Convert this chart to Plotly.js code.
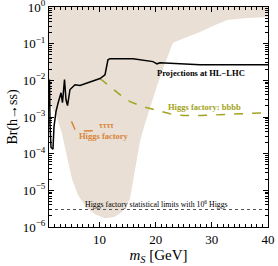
<!DOCTYPE html>
<html>
<head>
<meta charset="utf-8">
<script src="https://cdn.plot.ly/plotly-3.0.1.min.js"></script>
<style>html,body{margin:0;padding:0;background:#fff;}#chart{width:278px;height:266px;}</style>
</head>
<body>
<div id="chart"></div>
<script>
// Shaded allowed region lower boundary (mass in GeV, log10 Br)
const shadeMass = [1.0, 1.53, 2.07, 2.6, 3.32, 3.85, 4.38, 5.1, 6.16, 7.6, 9.2, 11.0, 12.6, 14.0, 15.4, 16.3, 17.2, 18.1, 19.0, 20.2, 21.7, 22.5, 23.08, 25.58, 27.9, 30.0, 32.7, 36.26, 40.0];
const shadeLogBr = [-2.61, -2.74, -2.88, -3.10, -3.45, -3.83, -4.24, -4.70, -5.13, -5.46, -5.65, -5.76, -5.73, -5.59, -5.24, -4.43, -3.67, -3.18, -2.72, -2.17, -1.52, -1.17, -0.977, -0.815, -0.679, -0.53, -0.353, -0.299, -0.27];

// HL-LHC projections
const lhcMass = [1.09, 1.18, 1.36, 1.71, 1.89, 2.25, 2.6, 3.14, 3.4, 3.76, 4.03, 4.3, 4.74, 5.1, 5.63, 6.52, 7.95, 9.19, 10.08, 10.97, 11.5, 11.86, 15.96, 19.52, 20.23, 20.77, 27.9, 40.0];
const lhcLogBr = [-1.98, -3.20, -3.83, -3.88, -3.26, -2.85, -2.63, -2.34, -2.61, -1.98, -2.53, -2.69, -2.25, -2.20, -2.12, -2.14, -2.06, -2.01, -1.95, -1.85, -1.44, -1.41, -1.41, -1.49, -1.55, -1.52, -1.575, -1.575];

// Higgs factory bbbb
const bbMass = [10.08, 11.86, 13.64, 15.43, 17.74, 20.23, 22.55, 24.87, 27.9, 32.7, 40.0];
const bbLogBr = [-1.95, -2.17, -2.39, -2.58, -2.72, -2.82, -2.91, -2.96, -2.96, -2.93, -2.88];

// Higgs factory tau tau tau tau
const tauMass = [5.0, 5.36, 5.63, 6.52, 7.95, 9.19, 9.73];
const tauLogBr = [-3.12, -3.26, -3.34, -3.39, -3.39, -3.37, -3.34];

// Statistical limit with 10^6 Higgs
const statLimit = 3e-6;

const xRange = [1, 40];
const yLogRange = [-6, 0];
const yTickVals = [1e-6, 1e-5, 1e-4, 1e-3, 1e-2, 1e-1, 1];
const yTickText = ['10<sup>−6</sup>', '10<sup>−5</sup>', '10<sup>−4</sup>', '10<sup>−3</sup>', '10<sup>−2</sup>', '10<sup>−1</sup>', '10<sup>0</sup>'];
const xTickVals = [10, 20, 30, 40];

const pow10 = a => a.map(v => Math.pow(10, v));

const shadeX = shadeMass.concat([xRange[1], xRange[0]]);
const shadeY = pow10(shadeLogBr).concat([Math.pow(10, yLogRange[1]), Math.pow(10, yLogRange[1])]);

const serif = 'Liberation Serif, Times New Roman, serif';
const olive = '#a3a321';
const orange = '#d8853a';

const traces = [
  {x: shadeX, y: shadeY, type: 'scatter', mode: 'lines', fill: 'toself', fillcolor: '#e9dfd4', line: {width: 0, color: '#e9dfd4'}, hoverinfo: 'skip'},
  {x: xRange, y: [statLimit, statLimit], type: 'scatter', mode: 'lines', line: {color: '#555', width: 1, dash: 'dot'}},
  {x: tauMass, y: pow10(tauLogBr), type: 'scatter', mode: 'lines', line: {color: orange, width: 1.5, dash: 'dash'}},
  {x: bbMass, y: pow10(bbLogBr), type: 'scatter', mode: 'lines', line: {color: olive, width: 1.5, dash: 'dash'}},
  {x: lhcMass, y: pow10(lhcLogBr), type: 'scatter', mode: 'lines', line: {color: '#000', width: 1.5}}
];

const layout = {
  width: 278, height: 266,
  margin: {l: 49, r: 10, t: 7, b: 39},
  paper_bgcolor: '#fff', plot_bgcolor: '#fff',
  showlegend: false,
  font: {family: serif, color: '#000', size: 12},
  xaxis: {
    range: xRange, showgrid: false, zeroline: false,
    showline: true, linecolor: '#000', linewidth: 1, mirror: 'allticks',
    ticks: 'inside', ticklen: 5, tickcolor: '#000', tickmode: 'array', tickvals: xTickVals,
    tickfont: {family: serif, size: 13}, ticklabeloverflow: 'allow',
    minor: {ticks: 'inside', ticklen: 3, dtick: 1, tick0: 0, tickcolor: '#000', showgrid: false},
    title: {text: '<i>m<sub>S</sub></i> [GeV]', font: {family: serif, size: 15}, standoff: 3}
  },
  yaxis: {
    type: 'log', range: yLogRange, showgrid: false, zeroline: false,
    showline: true, linecolor: '#000', linewidth: 1, mirror: 'allticks',
    ticks: 'inside', ticklen: 5, tickcolor: '#000', tickmode: 'array', tickvals: yTickVals, ticktext: yTickText,
    tickfont: {family: serif, size: 13}, ticklabeloverflow: 'allow',
    minor: {ticks: 'inside', ticklen: 3, dtick: 'D1', tickcolor: '#000', showgrid: false},
    title: {text: 'Br(h→ss)', font: {family: serif, size: 14}, standoff: 1}
  },
  annotations: [
    {x: 28.07, y: -1.79, xref: 'x', yref: 'y', text: '<b>Projections at HL−LHC</b>', showarrow: false, font: {family: serif, size: 8.5, color: '#000'}},
    {x: 28.7, y: -2.715, xref: 'x', yref: 'y', text: '<b>Higgs factory: bbbb</b>', showarrow: false, font: {family: serif, size: 8.5, color: olive}},
    {x: 11.24, y: -3.23, xref: 'x', yref: 'y', text: '<b>ττττ</b>', showarrow: false, font: {family: serif, size: 8, color: orange}},
    {x: 10.8, y: -3.53, xref: 'x', yref: 'y', text: '<b>Higgs factory</b>', showarrow: false, font: {family: serif, size: 8.5, color: orange}},
    {x: 20.06, y: -5.38, xref: 'x', yref: 'y', text: 'Higgs factory statistical limits with 10<sup>6</sup> Higgs', showarrow: false, font: {family: serif, size: 7.8, color: '#000'}}
  ]
};

Plotly.newPlot('chart', traces, layout, {displayModeBar: false, staticPlot: true});
</script>
</body>
</html>
